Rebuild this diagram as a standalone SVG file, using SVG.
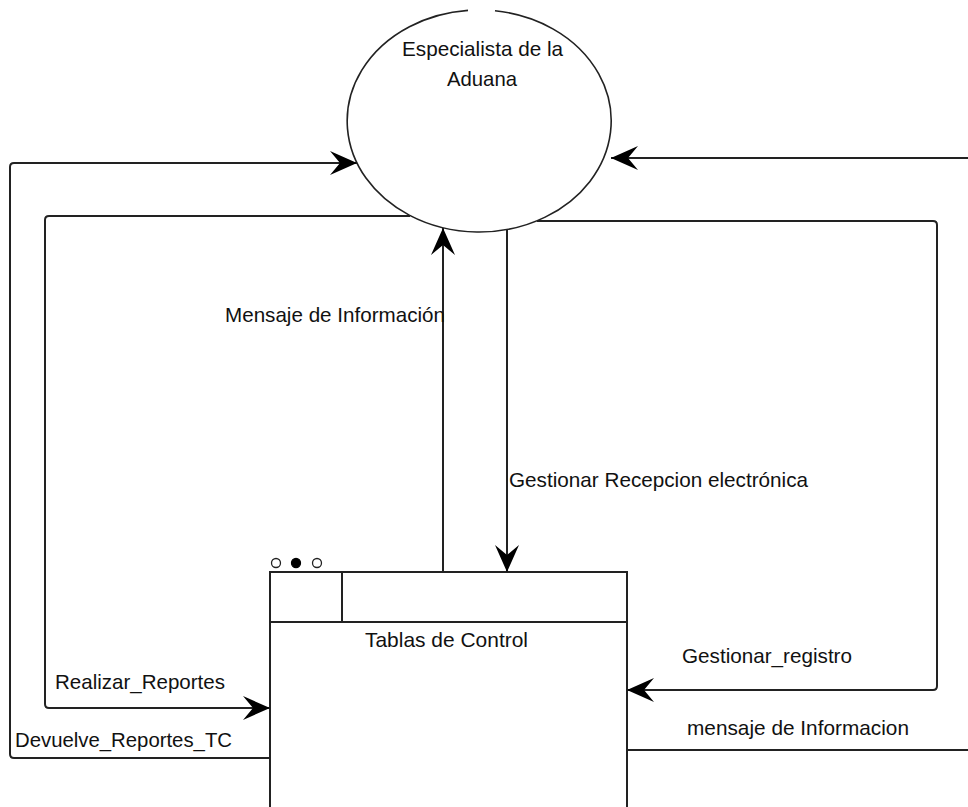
<svg xmlns="http://www.w3.org/2000/svg" width="968" height="807" viewBox="0 0 968 807">
  <style>
    .line { fill: none; stroke: #222; stroke-width: 2; }
    .shape { fill: #fff; stroke: #222; stroke-width: 2; }
    .outline { fill: none; stroke: #222; stroke-width: 1.6; }
    .label { font-family: "Liberation Sans", Arial, sans-serif; font-size: 21px; fill: #111; }
  </style>
  <defs>
    <marker id="arrow" markerUnits="userSpaceOnUse" markerWidth="30" markerHeight="28"
            viewBox="-28 -13 30 26" refX="0" refY="0" orient="auto">
      <path d="M0,0 L-27,-12 L-17,0 L-27,12 Z" fill="#000"/>
    </marker>
  </defs>
  <rect width="968" height="807" fill="#fff"/>

  <!-- external entity -->
  <g id="especialista">
    <path class="outline" d="M495,10.8 A132,111 0 1 1 468,10.4"/>
    <text class="label" x="402" y="56" textLength="161" lengthAdjust="spacingAndGlyphs">Especialista de la</text>
    <text class="label" x="447" y="86" textLength="70" lengthAdjust="spacingAndGlyphs">Aduana</text>
  </g>

  <!-- data store -->
  <g id="tablas-control">
    <rect class="shape" x="270" y="572" width="357" height="250"/>
    <line class="line" x1="270" y1="622" x2="627" y2="622"/>
    <line class="line" x1="342" y1="572" x2="342" y2="622"/>
    <circle cx="276" cy="563" r="4.5" fill="#fff" stroke="#222" stroke-width="1.3"/>
    <circle cx="296" cy="563" r="4.5" fill="#000" stroke="#000" stroke-width="1.3"/>
    <circle cx="317" cy="563" r="4.5" fill="#fff" stroke="#222" stroke-width="1.3"/>
    <text class="label" x="365" y="647" textLength="163" lengthAdjust="spacingAndGlyphs">Tablas de Control</text>
  </g>

  <!-- flows -->
  <g id="connectors">
    <path class="line" d="M270,758 H14 Q10,758 10,754 V167 Q10,163 14,163 H357" marker-end="url(#arrow)"/>
    <path class="line" d="M410,216 H49 Q45,216 45,220 V704 Q45,708 49,708 H270" marker-end="url(#arrow)"/>
    <path class="line" d="M968,158 H611" marker-end="url(#arrow)"/>
    <path class="line" d="M537,221 H933 Q937,221 937,225 V686 Q937,690 933,690 H627" marker-end="url(#arrow)"/>
    <path class="line" d="M627,750 H968"/>
    <path class="line" d="M443,572 V228" marker-end="url(#arrow)"/>
    <path class="line" d="M507,230 V572" marker-end="url(#arrow)"/>

    <text class="label" x="225" y="322" textLength="220" lengthAdjust="spacingAndGlyphs">Mensaje de Información</text>
    <text class="label" x="509" y="487" textLength="299" lengthAdjust="spacingAndGlyphs">Gestionar Recepcion electrónica</text>
    <text class="label" x="55" y="689" textLength="170" lengthAdjust="spacingAndGlyphs">Realizar_Reportes</text>
    <text class="label" x="15" y="747" textLength="217" lengthAdjust="spacingAndGlyphs">Devuelve_Reportes_TC</text>
    <text class="label" x="682" y="663" textLength="170" lengthAdjust="spacingAndGlyphs">Gestionar_registro</text>
    <text class="label" x="687" y="735" textLength="222" lengthAdjust="spacingAndGlyphs">mensaje de Informacion</text>
  </g>
</svg>
